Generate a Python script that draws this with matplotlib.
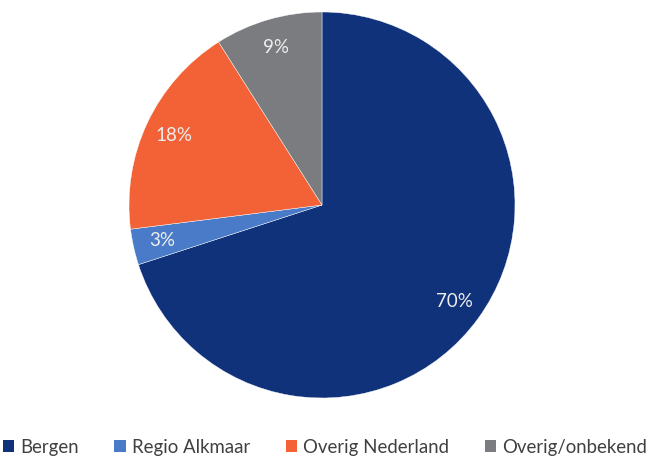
import matplotlib.pyplot as plt
from matplotlib.patches import Patch

# Herkomst verdeling
labels = ['Bergen', 'Regio Alkmaar', 'Overig Nederland', 'Overig/onbekend']
values = [70, 3, 18, 9]
colors = ['#0F327B', '#4A7BC8', '#F26236', '#7B7C80']

plt.rcParams['font.family'] = ['Lato', 'DejaVu Sans']

fig = plt.figure(figsize=(6.5, 4.57), dpi=100)
ax = fig.add_axes([129 / 650, 59 / 457, 386 / 650, 386 / 457])

wedges, texts, autotexts = ax.pie(
    values, colors=colors, startangle=90, counterclock=False,
    autopct='%1.0f%%', pctdistance=0.85, radius=1,
    wedgeprops=dict(linewidth=0.3, edgecolor='white'),
    textprops=dict(color='#EDEDED', fontsize=13.5))
ax.set_xlim(-1, 1)
ax.set_ylim(-1, 1)
ax.set_aspect('equal')

handles = [Patch(facecolor=c, edgecolor='none') for c in colors]
fig.legend(handles, labels, loc='center', bbox_to_anchor=(0.5, 1 - 447 / 457),
           ncol=4, frameon=False, fontsize=13.4, handlelength=0.6, handleheight=0.6,
           handletextpad=0.35, columnspacing=1.9, labelcolor='#404040',
           borderpad=0.1)

fig.savefig('out.png', dpi=100)
